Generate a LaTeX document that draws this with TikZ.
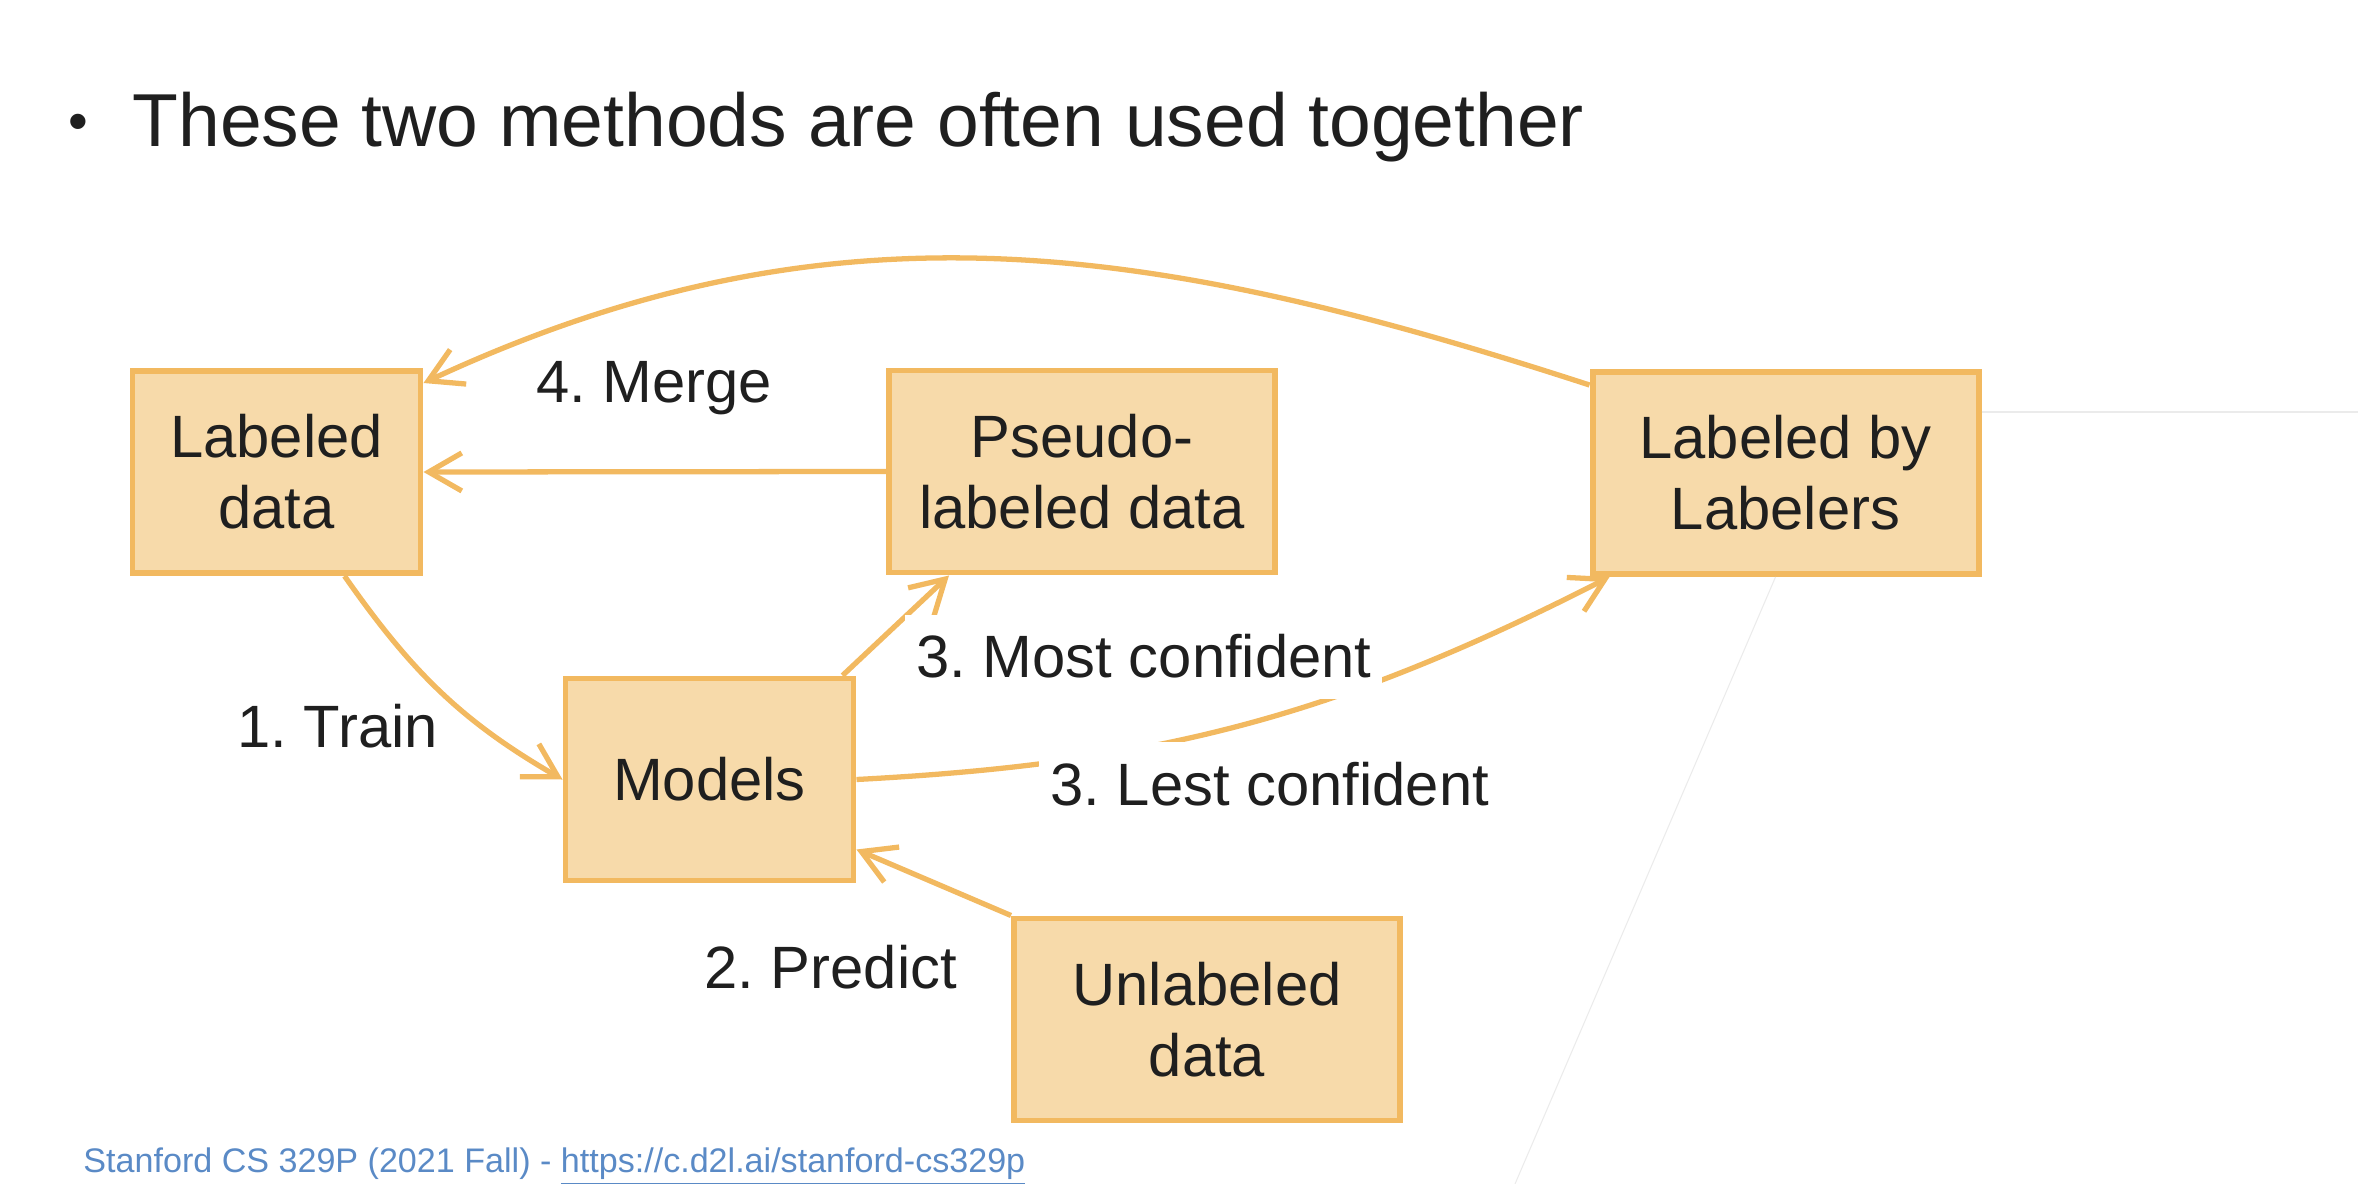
\documentclass[tikz,border=0pt]{standalone}
\usepackage{fontspec}
\setmainfont{Liberation Sans}
\frenchspacing
\usetikzlibrary{arrows.meta, positioning, calc}
\definecolor{cfill}{HTML}{F7DAAA}
\definecolor{cedge}{HTML}{F2B960}
\definecolor{ctext}{HTML}{1F1F1F}
\definecolor{clink}{HTML}{5A8AC6}
\definecolor{cfaint}{HTML}{EBEBEB}
\tikzset{
  every picture/.style={line width=1.4pt},
  box/.style={draw=cedge, fill=cfill, align=center, minimum width=#1, minimum height=2.02cm, inner sep=0pt, text=ctext, font=\fontsize{17}{20.2}\selectfont, line width=1.7pt},
  box/.default=3.86cm,
  arrow/.style={-{Straight Barb[length=3.3mm, width=3.8mm]}, draw=cedge, line width=1.5pt},
  note/.style={font=\fontsize{17}{20}\selectfont, text=ctext, inner xsep=0.11cm, inner ysep=0.2cm, anchor=base west},
  title/.style={font=\fontsize{21.35}{25}\selectfont, text=ctext, anchor=base west, inner sep=0pt},
}

\begin{document}
\begin{tikzpicture}
  \useasboundingbox (0,0) rectangle (23.58,-11.84);
  \node[text=ctext, font=\fontsize{16}{16}\selectfont, inner sep=0pt] (dot) at (0.78,-1.27) {\textbullet};
  \node[title] (head) at (1.30,-1.47) {These two methods are often used together};

  \node[box=2.88cm] (lab) at (2.765,-4.72) {Labeled\\data};
  \node[box] (pseudo) at (10.82,-4.715) {Pseudo-\\labeled data};
  \node[box] (labelers) at (17.855,-4.73) {Labeled by\\Labelers};
  \node[box=2.88cm] (models) at (7.095,-7.795) {Models};
  \node[box] (unlab) at (12.07,-10.195) {Unlabeled\\data};

  % faint guide lines
  \coordinate (fa) at (15.15,-11.84);
  \coordinate (fb) at (23.58,-4.12);
  \draw[cfaint, line width=0.3pt] ([xshift=-0.1cm]labelers.south) -- (fa);
  \draw[cfaint, line width=0.3pt] (labelers.east |- fb) -- (fb);

  \draw[arrow] ([xshift=0.68cm]lab.south) to[out=-55, in=150] (models.west);
  \draw[arrow] (pseudo.west) -- (lab.east);
  \draw[arrow] ([yshift=-0.16cm]labelers.north west) to[out=162, in=25] ([yshift=-0.15cm]lab.north east);
  \draw[arrow] ([xshift=-0.14cm]models.north east) -- ([xshift=-1.33cm]pseudo.south);
  \draw[arrow] (models.east) to[out=3, in=207] ([xshift=0.2cm]labelers.south west);
  \draw[arrow] (unlab.north west) -- ([yshift=-0.7cm]models.east);

  \node[note] (merge) at (5.23,-4.03) {4. Merge};
  \node[note] (train) at (2.24,-7.47) {1. Train};
  \node[note] (predict) at (6.91,-9.88) {2. Predict};
  \node[note, fill=white] (most) at (9.03,-6.78) {3. Most confident};
  \node[note, fill=white] (lest) at (10.37,-8.05) {3. Lest confident};

  \node[anchor=base west, inner sep=0pt, text=clink, font=\fontsize{9.7}{11}\selectfont] (src) at (0.81,-11.72) {Stanford CS 329P (2021 Fall) - \underline{https://c.d2l.ai/stanford-cs329p}};
\end{tikzpicture}
\end{document}
